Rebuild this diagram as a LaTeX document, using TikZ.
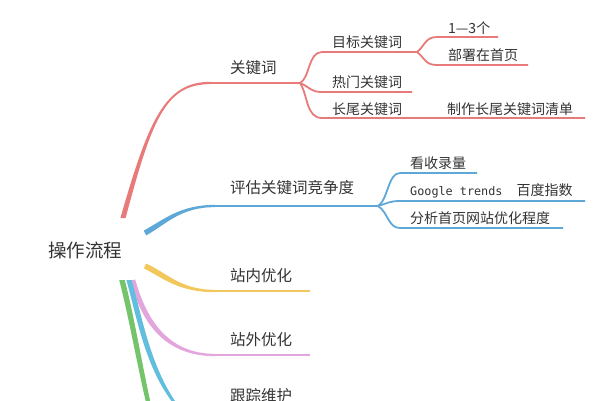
\documentclass[tikz,border=0pt]{standalone}
\usepackage{fontspec}
\setmainfont{Noto Sans CJK SC}
\newfontfamily\monofam{DejaVu Sans Mono}
\usetikzlibrary{calc,positioning}
\definecolor{kwred}{HTML}{E87A7A}
\definecolor{evblue}{HTML}{5EA8D8}
\definecolor{inyellow}{HTML}{F2C85C}
\definecolor{outpink}{HTML}{E2A6DC}
\definecolor{trcyan}{HTML}{62BEDD}
\definecolor{trgreen}{HTML}{74C46C}
\definecolor{txtgray}{HTML}{333333}

\begin{document}
\begin{tikzpicture}[x=1pt,y=-1pt,
  mainlbl/.style={anchor=west,inner sep=0pt,text=txtgray,font=\fontsize{15.5}{16}\selectfont},
  sublbl/.style={anchor=west,inner sep=0pt,text=txtgray,font=\fontsize{14}{15}\selectfont},
  limb/.style={line width=2.3pt},
  twig/.style={line width=1.8pt}]

\useasboundingbox (0,0) rectangle (605,400);
\clip (0,0) rectangle (605,400);

\node[inner sep=0pt,text=txtgray,font=\fontsize{18.5}{19}\selectfont] (root) at (85,250) {操作流程};

% 关键词
\coordinate (kwA) at (123,218);
\coordinate (kwB) at (210,83);
\coordinate (kwF) at (300,83);
\fill[kwred] ($(kwA)+(-2.6,0)$) .. controls (148.5,120) and (165,81.9) .. ($(kwB)+(0,-1.15)$) -- ($(kwB)+(0,1.15)$) .. controls (165,84.1) and (151.5,121) .. ($(kwA)+(2.6,0)$) -- cycle;
\draw[kwred,limb] (kwB) -- (kwF);
\node[mainlbl] (kw) at (230,68) {关键词};

\coordinate (kwT) at (322,52);
\coordinate (kwTF) at (417,52);
\coordinate (kwH) at (322,92);
\coordinate (kwHe) at (412,92);
\coordinate (kwL) at (322,118);
\coordinate (kwLe) at (585,118);
\draw[kwred,twig] (kwF) .. controls (310,78) and (308,52) .. (kwT) -- (kwTF);
\draw[kwred,twig] (kwF) .. controls (310,87) and (310,92) .. (kwH) -- (kwHe);
\draw[kwred,twig] (kwF) .. controls (308,95) and (306,118) .. (kwL) -- (kwLe);
\node[sublbl] (kwTarget) at (332,42) {目标关键词};
\node[sublbl] (kwHot) at (332,82) {热门关键词};
\node[sublbl] (kwLong) at (332,109) {长尾关键词};
\node[sublbl] (kwList) at (447,109) {制作长尾关键词清单};

\coordinate (kwN) at (437,37);
\coordinate (kwNe) at (498,37);
\coordinate (kwP) at (437,65);
\coordinate (kwPe) at (528,65);
\draw[kwred,twig] (kwTF) .. controls (425,46) and (425,37) .. (kwN) -- (kwNe);
\draw[kwred,twig] (kwTF) .. controls (425,58) and (425,65) .. (kwP) -- (kwPe);
\node[sublbl] (kwNum) at (448,28) {1—3个};
\node[sublbl] (kwPage) at (448,55) {部署在首页};

% 评估关键词竞争度
\coordinate (evA) at (145,233);
\coordinate (evB) at (215,206);
\coordinate (evF) at (378,206);
\fill[evblue] ($(evA)+(-1.2,-2.4)$) .. controls (164,219.5) and (180,204.9) .. ($(evB)+(0,-1.15)$) -- ($(evB)+(0,1.15)$) .. controls (181,207.1) and (167,223.5) .. ($(evA)+(1.2,2.4)$) -- cycle;
\draw[evblue,limb] (evB) -- (evF);
\node[mainlbl] (ev) at (230,188) {评估关键词竞争度};

\coordinate (evS) at (400,173);
\coordinate (evSe) at (477,173);
\coordinate (evG) at (400,201);
\coordinate (evGe) at (585,201);
\coordinate (evO) at (400,228);
\coordinate (evOe) at (563,228);
\draw[evblue,twig] (evF) .. controls (388,200) and (388,173) .. (evS) -- (evSe);
\draw[evblue,twig] (evF) .. controls (388,203) and (390,201) .. (evG) -- (evGe);
\draw[evblue,twig] (evF) .. controls (388,212) and (388,228) .. (evO) -- (evOe);
\node[sublbl] (evIndex) at (410,163) {看收录量};
\node[sublbl] (evTrend) at (410,191) {{\monofam\fontsize{11.8}{12}\selectfont Google trends}\hspace{14pt}百度指数};
\node[sublbl] (evSite) at (410,218) {分析首页网站优化程度};

% 站内优化
\coordinate (inA) at (145,266);
\coordinate (inB) at (215,291);
\coordinate (inE) at (310,291);
\fill[inyellow] ($(inA)+(1,-2.4)$) .. controls (166,272) and (180,289.9) .. ($(inB)+(0,-1.15)$) -- ($(inB)+(0,1.15)$) .. controls (178,292.1) and (163,278) .. ($(inA)+(-1,2.4)$) -- cycle;
\draw[inyellow,limb] (inB) -- (inE);
\node[mainlbl] (in) at (230,276) {站内优化};

% 站外优化
\coordinate (outA) at (133,280);
\coordinate (outB) at (215,355);
\coordinate (outE) at (310,355);
\fill[outpink] ($(outA)+(2.2,-0.5)$) .. controls (146,318) and (167,353.9) .. ($(outB)+(0,-1.15)$) -- ($(outB)+(0,1.15)$) .. controls (164,356.1) and (141,322) .. ($(outA)+(-2.2,0.5)$) -- cycle;
\draw[outpink,limb] (outB) -- (outE);
\node[mainlbl] (out) at (230,340) {站外优化};

% 跟踪维护
\coordinate (trA) at (129,280);
\coordinate (trB) at (180,410);
\coordinate (grA) at (122,280);
\coordinate (grB) at (150,410);
\fill[trcyan] ($(trA)+(-2.6,0)$) .. controls (138,322) and (146,372) .. ($(trB)+(-1.5,0)$) -- ($(trB)+(1.5,0)$) .. controls (151,371) and (143,320) .. ($(trA)+(2.6,0)$) -- cycle;
\fill[trgreen] ($(grA)+(-2.8,0)$) .. controls (130,322) and (138,370) .. ($(grB)+(-2.2,0)$) -- ($(grB)+(2.2,0)$) .. controls (143,370) and (135,320) .. ($(grA)+(2.8,0)$) -- cycle;
\node[mainlbl] (track) at (230,396) {跟踪维护};

\end{tikzpicture}
\end{document}
